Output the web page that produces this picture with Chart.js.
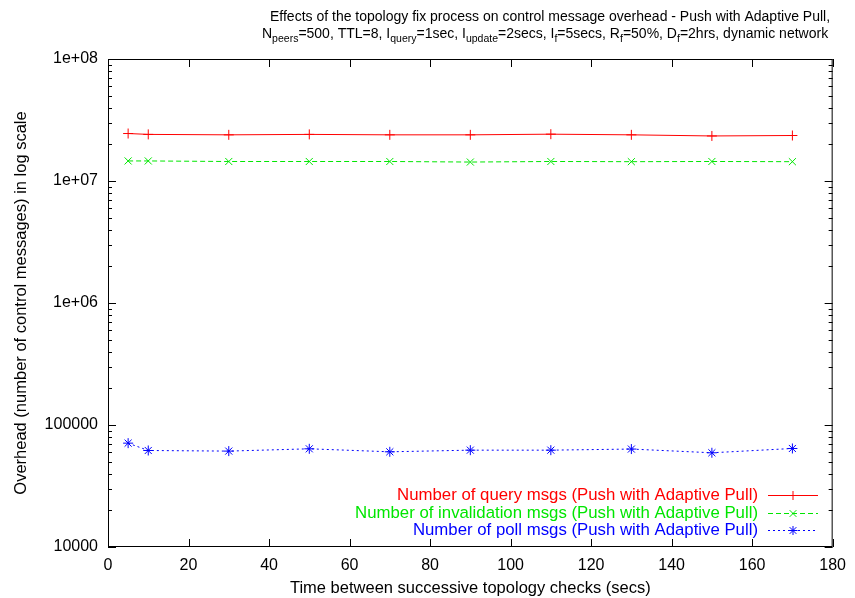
<!DOCTYPE html>
<html>
<head>
<meta charset="utf-8">
<script src="https://cdn.jsdelivr.net/npm/chart.js@4"></script>
<style>
  html, body { margin: 0; padding: 0; background: #fff; }
  #wrap { width: 855px; height: 598px; }
</style>
</head>
<body>
<div id="wrap"><canvas id="chart"></canvas></div>
<script>
// x: time between topology checks (secs)
const checkTimes = [5, 10, 30, 50, 70, 90, 110, 130, 150, 170];
const queryMsgs = [2.45e7, 2.41e7, 2.39e7, 2.41e7, 2.39e7, 2.39e7, 2.42e7, 2.39e7, 2.34e7, 2.36e7];
const invalidationMsgs = [1.46e7, 1.46e7, 1.445e7, 1.445e7, 1.445e7, 1.43e7, 1.445e7, 1.44e7, 1.445e7, 1.44e7];
const pollMsgs = [7.1e4, 6.18e4, 6.11e4, 6.38e4, 6.03e4, 6.22e4, 6.22e4, 6.35e4, 5.92e4, 6.42e4];
const seriesNames = [
  'Number of query msgs (Push with Adaptive Pull)',
  'Number of invalidation msgs (Push with Adaptive Pull)',
  'Number of poll msgs (Push with Adaptive Pull)'
];
const yTicks = [1e4, 1e5, 1e6, 1e7, 1e8];
const xTicks = [0, 20, 40, 60, 80, 100, 120, 140, 160, 180];

const FONT = '"Liberation Sans", Arial, sans-serif';
const RED = '#ff0000', GREEN = '#00e600', BLUE = '#0000ff';

const pts = arr => arr.map((v, i) => ({ x: checkTimes[i], y: v }));

// gnuplot style frame, ticks, titles and legend
const gnuplotBits = {
  id: 'gnuplotBits',
  afterDraw(chart) {
    const c = chart.ctx;
    const a = chart.chartArea;
    const xs = chart.scales.x, ys = chart.scales.y;
    c.save();
    c.strokeStyle = '#000';
    c.lineWidth = 1;
    c.strokeRect(a.left + 0.5, a.top + 0.5, a.right - a.left - 1, a.bottom - a.top - 1);
    c.beginPath();
    xTicks.forEach(t => {
      const px = Math.round(xs.getPixelForValue(t)) + 0.5;
      c.moveTo(px, a.bottom); c.lineTo(px, a.bottom - 8);
      c.moveTo(px, a.top); c.lineTo(px, a.top + 8);
    });
    for (let d = 4; d <= 8; d++) {
      const py = Math.round(ys.getPixelForValue(Math.pow(10, d))) + 0.5;
      c.moveTo(a.left, py); c.lineTo(a.left + 8, py);
      c.moveTo(a.right, py); c.lineTo(a.right - 8, py);
      if (d < 8) {
        for (let m = 2; m <= 9; m++) {
          const my = Math.round(ys.getPixelForValue(m * Math.pow(10, d))) + 0.5;
          c.moveTo(a.left, my); c.lineTo(a.left + 4, my);
          c.moveTo(a.right, my); c.lineTo(a.right - 4, my);
        }
      }
    }
    c.stroke();

    // axis titles
    c.fillStyle = '#000';
    c.font = '16.5px ' + FONT;
    c.textAlign = 'center';
    c.textBaseline = 'middle';
    c.fillText('Time between successive topology checks (secs)', (a.left + a.right) / 2, 588);
    c.save();
    c.translate(21, (a.top + a.bottom) / 2);
    c.rotate(-Math.PI / 2);
    c.fillText('Overhead (number of control messages) in log scale', 0, 0);
    c.restore();

    // title with subscripts
    c.textAlign = 'left';
    c.textBaseline = 'alphabetic';
    const big = '14px ' + FONT, small = '10.5px ' + FONT;
    c.font = big;
    c.fillText('Effects of the topology fix process on control message overhead - Push with Adaptive Pull,', 270, 21);
    const parts = [['N'], ['peers', 1], ['=500, TTL=8, I'], ['query', 1], ['=1sec, I'], ['update', 1],
      ['=2secs, I'], ['f', 1], ['=5secs, R'], ['f', 1], ['=50%, D'], ['f', 1], ['=2hrs, dynamic network']];
    let x = 262;
    parts.forEach(p => {
      c.font = p[1] ? small : big;
      c.fillText(p[0], x, p[1] ? 42 : 38);
      x += c.measureText(p[0]).width;
    });

    // legend
    const rows = [495, 513, 530];
    c.font = '16.8px ' + FONT;
    c.textAlign = 'right';
    c.textBaseline = 'middle';
    chart.data.datasets.forEach((ds, i) => {
      const y = rows[i];
      c.fillStyle = ds.borderColor;
      c.fillText(seriesNames[i], 758, y);
      c.strokeStyle = ds.borderColor;
      c.lineWidth = 1;
      c.setLineDash(ds.borderDash || []);
      c.beginPath();
      c.moveTo(768, y + 0.5); c.lineTo(818, y + 0.5);
      c.stroke();
      c.setLineDash([]);
      drawMarker(c, ds.pointStyle, 793, y + 0.5, 4.5, ds.borderColor);
    });
    c.restore();
  }
};

function drawMarker(c, style, x, y, r, color) {
  c.strokeStyle = color;
  c.beginPath();
  if (style === 'cross' || style === 'star') {
    c.moveTo(x - r, y); c.lineTo(x + r, y);
    c.moveTo(x, y - r); c.lineTo(x, y + r);
  }
  if (style === 'crossRot' || style === 'star') {
    const k = r * 0.75;
    c.moveTo(x - k, y - k); c.lineTo(x + k, y + k);
    c.moveTo(x - k, y + k); c.lineTo(x + k, y - k);
  }
  c.stroke();
}

new Chart(document.getElementById('chart'), {
  type: 'line',
  data: {
    datasets: [
      { label: seriesNames[0], data: pts(queryMsgs), borderColor: RED, backgroundColor: RED,
        borderWidth: 1, pointStyle: 'cross', pointRadius: 5, pointBorderWidth: 1 },
      { label: seriesNames[1], data: pts(invalidationMsgs), borderColor: GREEN, backgroundColor: GREEN,
        borderWidth: 1, borderDash: [5, 3], pointStyle: 'crossRot', pointRadius: 5, pointBorderWidth: 1 },
      { label: seriesNames[2], data: pts(pollMsgs), borderColor: BLUE, backgroundColor: BLUE,
        borderWidth: 1, borderDash: [2, 3], pointStyle: 'star', pointRadius: 5, pointBorderWidth: 1 }
    ]
  },
  options: {
    responsive: true,
    maintainAspectRatio: false,
    animation: false,
    layout: { padding: { top: 59, right: 19, left: 0, bottom: 0 } },
    plugins: { legend: { display: false }, title: { display: false }, tooltip: { enabled: false } },
    scales: {
      x: {
        type: 'linear', min: 0, max: 180,
        grid: { display: false, drawTicks: false },
        border: { display: false },
        ticks: { stepSize: 20, padding: 9, color: '#000', font: { family: FONT, size: 16 }, maxRotation: 0 },
        afterFit: s => { s.height = 51; }
      },
      y: {
        type: 'logarithmic', min: 1e4, max: 1e8,
        grid: { display: false, drawTicks: false },
        border: { display: false },
        afterBuildTicks: s => { s.ticks = yTicks.map(v => ({ value: v })); },
        ticks: {
          padding: 10, color: '#000', font: { family: FONT, size: 16 },
          callback: v => v >= 1e6 ? '1e+0' + Math.round(Math.log10(v)) : String(v)
        },
        afterFit: s => { s.width = 108; }
      }
    }
  },
  plugins: [gnuplotBits]
});
</script>
</body>
</html>
